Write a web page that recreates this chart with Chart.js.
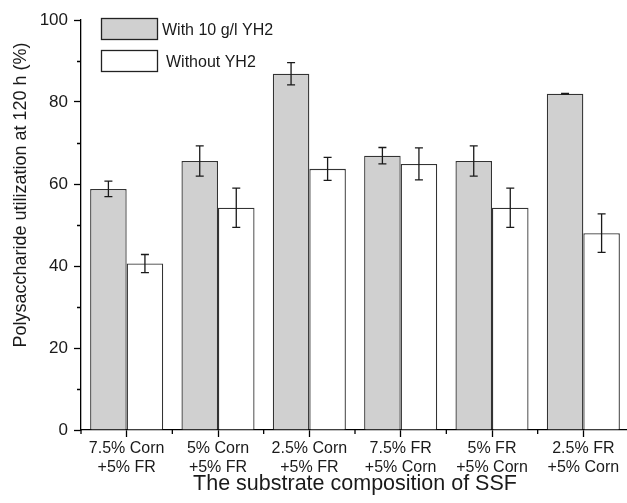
<!DOCTYPE html>
<html>
<head>
<meta charset="utf-8">
<script src="https://cdn.jsdelivr.net/npm/chart.js@4.4.0/dist/chart.umd.min.js"></script>
<style>
  html, body { margin: 0; padding: 0; background: #fff; overflow: hidden; }
  #wrap { width: 627px; height: 503px; overflow: hidden; }
  #wrap div { width: 640px; height: 503px; }
</style>
</head>
<body>
<div id="wrap"><div><canvas id="ssf"></canvas></div></div>
<script>
// categories (substrate composition)
const categories = [
  ["7.5% Corn", "+5% FR"],
  ["5% Corn", "+5% FR"],
  ["2.5% Corn", "+5% FR"],
  ["7.5% FR", "+5% Corn"],
  ["5% FR", "+5% Corn"],
  ["2.5% FR", "+5% Corn"]
];

// polysaccharide utilization at 120 h (%)
const withYH2 = [58.8, 65.6, 86.9, 66.9, 65.6, 82.0];
const withYH2Err = [1.9, 3.7, 2.7, 2.0, 3.7, 0.1];
const withoutYH2 = [40.6, 54.2, 63.7, 64.9, 54.2, 48.0];
const withoutYH2Err = [2.2, 4.8, 2.8, 3.9, 4.8, 4.7];

const yTicks = [0, 20, 40, 60, 80, 100];
const yMinorTicks = [10, 30, 50, 70, 90];

const FONT = '"Liberation Sans", Arial, sans-serif';
const INK = '#1a1a1a';

// error bars drawn on top of every bar
const errorBars = {
  id: 'errorBars',
  afterDatasetsDraw(chart) {
    const ctx = chart.ctx;
    const y = chart.scales.y;
    ctx.save();
    ctx.strokeStyle = INK;
    ctx.lineWidth = 1.3;
    chart.data.datasets.forEach((ds, i) => {
      const meta = chart.getDatasetMeta(i);
      meta.data.forEach((bar, j) => {
        const v = ds.data[j], e = ds.errors[j];
        const top = y.getPixelForValue(v + e);
        const bot = y.getPixelForValue(v - e);
        ctx.beginPath();
        ctx.moveTo(bar.x, top); ctx.lineTo(bar.x, bot);
        ctx.moveTo(bar.x - 4, top); ctx.lineTo(bar.x + 4, top);
        ctx.moveTo(bar.x - 4, bot); ctx.lineTo(bar.x + 4, bot);
        ctx.stroke();
      });
    });
    ctx.restore();
  }
};

// short minor ticks on both axes
const minorTicks = {
  id: 'minorTicks',
  afterDraw(chart) {
    const ctx = chart.ctx;
    const {x, y} = chart.scales;
    const area = chart.chartArea;
    ctx.save();
    ctx.strokeStyle = '#000';
    ctx.lineWidth = 1.3;
    ctx.beginPath();
    yMinorTicks.forEach(v => {
      const py = Math.round(y.getPixelForValue(v)) + 0.5;
      ctx.moveTo(area.left - 4, py); ctx.lineTo(area.left, py);
    });
    const step = (x.getPixelForValue(1) - x.getPixelForValue(0));
    for (let i = 0; i <= categories.length; i++) {
      const px = x.getPixelForValue(0) - step / 2 + i * step;
      ctx.moveTo(px, area.bottom); ctx.lineTo(px, area.bottom + 4);
    }
    ctx.stroke();
    ctx.restore();
  }
};

// legend boxes in the upper left of the plot
const boxLegend = {
  id: 'boxLegend',
  afterDraw(chart) {
    const ctx = chart.ctx;
    ctx.save();
    ctx.font = '16px ' + FONT;
    ctx.textBaseline = 'middle';
    ctx.fillStyle = INK;
    chart.data.datasets.forEach((ds, i) => {
      const top = 18.5 + i * 32;
      ctx.fillStyle = ds.backgroundColor;
      ctx.fillRect(101.5, top, 56, 21);
      ctx.strokeStyle = '#222';
      ctx.lineWidth = 1.3;
      ctx.strokeRect(101.5, top, 56, 21);
      ctx.fillStyle = INK;
      ctx.fillText(ds.label, 162 + i * 4, top + 12);
    });
    ctx.restore();
  }
};

new Chart(document.getElementById('ssf'), {
  type: 'bar',
  data: {
    labels: categories,
    datasets: [{
      label: 'With 10 g/l YH2',
      data: withYH2,
      errors: withYH2Err,
      backgroundColor: '#d0d0d0',
      borderColor: '#333',
      borderWidth: 1.3
    }, {
      label: 'Without YH2',
      data: withoutYH2,
      errors: withoutYH2Err,
      backgroundColor: '#ffffff',
      borderColor: '#333',
      borderWidth: 1.3
    }]
  },
  options: {
    responsive: true,
    maintainAspectRatio: false,
    animation: false,
    categoryPercentage: 0.8,
    barPercentage: 1.0,
    layout: { padding: { top: 20, right: 11, left: 0, bottom: 0 } },
    plugins: {
      legend: { display: false },
      tooltip: { enabled: false }
    },
    scales: {
      x: {
        offset: true,
        grid: { display: true, offset: false, drawOnChartArea: false, tickLength: 7, tickColor: '#000', tickWidth: 1.3 },
        border: { color: '#000', width: 1.3 },
        ticks: { color: INK, font: { family: FONT, size: 16 }, maxRotation: 0, autoSkip: false, padding: 2 },
        title: {
          display: true,
          text: 'The substrate composition of SSF',
          color: INK,
          font: { family: FONT, size: 21.5 },
          padding: { top: 0, bottom: 6 }
        },
        afterFit(s) { s.height = 73; }
      },
      y: {
        min: 0,
        max: 100,
        afterBuildTicks(s) { s.ticks = yTicks.map(v => ({ value: v })); },
        grid: { display: true, drawOnChartArea: false, tickLength: 7, tickColor: '#000', tickWidth: 1.3 },
        border: { color: '#000', width: 1.3 },
        ticks: { color: INK, font: { family: FONT, size: 17 }, padding: 6 },
        title: {
          display: true,
          text: '            Polysaccharide utilization at 120 h (%)',
          color: INK,
          font: { family: FONT, size: 18 },
          padding: { top: 10, bottom: 0 }
        },
        afterFit(s) { s.width = 81; }
      }
    }
  },
  plugins: [errorBars, minorTicks, boxLegend]
});
</script>
</body>
</html>
